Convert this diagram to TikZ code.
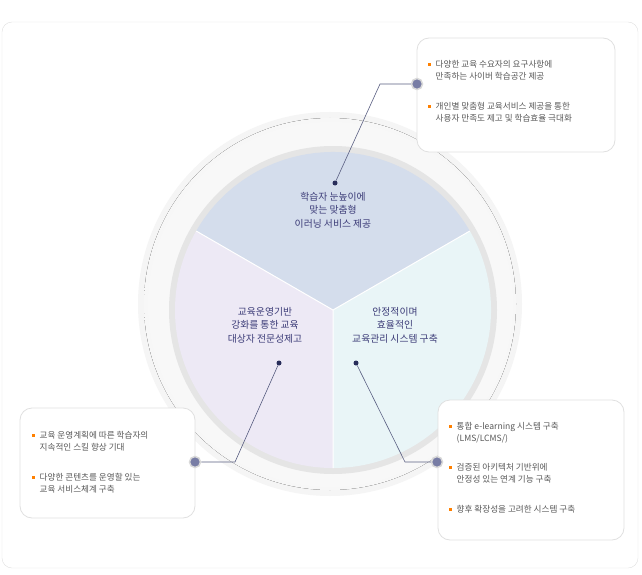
\documentclass[tikz,border=0pt]{standalone}
\usepackage{fontspec}
\setmainfont{Noto Sans CJK KR}
\begin{document}
\begin{tikzpicture}[x=1pt,y=-1pt,
  box/.style={draw=black!12,line width=0.8pt,fill=white,rounded corners=12pt},
  bullet/.style={anchor=north west,align=left,font=\fontsize{8.6}{12.5}\selectfont,text=black!65,inner sep=0pt},
  pie/.style={align=center,font=\fontsize{9.8}{13.5}\selectfont,text={rgb,255:red,60;green,60;blue,120}},
  dot/.style={circle,fill={rgb,255:red,40;green,45;blue,90},inner sep=0pt,minimum size=5pt},
  bigdot/.style={circle,fill={rgb,255:red,120;green,125;blue,165},draw=black!15,line width=1.5pt,inner sep=0pt,minimum size=11pt},
  link/.style={draw={rgb,255:red,90;green,95;blue,130},line width=0.6pt}]
\useasboundingbox (0,0) rectangle (642,575);
\draw[black!12,rounded corners=10pt,fill=white] (2,22) rectangle (638,568);
% outer ring
\fill[black!4] (330,304) circle (192);
\fill[inner color=white,outer color=black!3] (330,304) circle (186);
\fill[black!10] (333,310) circle (164);
% sectors
\coordinate (c) at (333,310);
\fill[fill={rgb,255:red,212;green,221;blue,236}] (c) -- +(-150:158) arc[start angle=-150,end angle=-30,radius=158] -- cycle;
\fill[fill={rgb,255:red,237;green,233;blue,245}] (c) -- +(90:158) arc[start angle=90,end angle=210,radius=158] -- cycle;
\fill[fill={rgb,255:red,233;green,245;blue,247}] (c) -- +(-30:158) arc[start angle=-30,end angle=90,radius=158] -- cycle;
\draw[white,line width=1pt] (c) -- +(-150:158) (c) -- +(-30:158) (c) -- +(90:158);
\node[pie] (t1) at (333,210) {학습자 눈높이에\\맞는 맞춤형\\이러닝 서비스 제공};
\node[pie] (t2) at (265,325) {교육운영기반\\강화를 통한 교육\\대상자 전문성제고};
\node[pie] (t3) at (395,325) {안정적이며\\효율적인\\교육관리 시스템 구축};
\node[dot] (d1) at (335,183) {};
\node[dot] (d2) at (279,363) {};
\node[dot] (d3) at (356,363) {};
% boxes
\draw[box] (417,38) rectangle (615,152);
\draw[box] (20,408) rectangle (195,518);
\draw[box] (438,400) rectangle (624,540);
\coordinate (k1) at (380,84);
\coordinate (k2) at (235,462);
\coordinate (k3) at (405,462);
\node[bigdot] (b1) at (417,84) {};
\node[bigdot] (b2) at (195,462) {};
\node[bigdot] (b3) at (437,462) {};
\draw[link] (d1) -- (k1) -- (b1);
\draw[link] (d2) -- (k2) -- (b2);
\draw[link] (d3) -- (k3) -- (b3);
\def\sq{\textcolor{orange}{\rule[1.8pt]{2.5pt}{2.5pt}}\hspace{5pt}}
\node[bullet] (p1) at (428,60) {\sq 다양한 교육 수요자의 요구사항에\\\hspace{7.5pt}만족하는 사이버 학습공간 제공};
\node[bullet] (p2) at (428,102) {\sq 개인별 맞춤형 교육서비스 제공을 통한\\\hspace{7.5pt}사용자 만족도 제고 및 학습효율 극대화};
\node[bullet] (p3) at (32,431) {\sq 교육 운영계획에 따른 학습자의\\\hspace{7.5pt}지속적인 스킬 향상 기대};
\node[bullet] (p4) at (32,473) {\sq 다양한 콘텐츠를 운영할 있는\\\hspace{7.5pt}교육 서비스체계 구축};
\node[bullet] (p5) at (449,422) {\sq 통합 e-learning 시스템 구축\\\hspace{7.5pt}(LMS/LCMS/)};
\node[bullet] (p6) at (449,463) {\sq 검증된 아키텍처 기반위에\\\hspace{7.5pt}안정성 있는 연계 기능 구축};
\node[bullet] (p7) at (449,505) {\sq 향후 확장성을 고려한 시스템 구축};
\end{tikzpicture}
\end{document}
